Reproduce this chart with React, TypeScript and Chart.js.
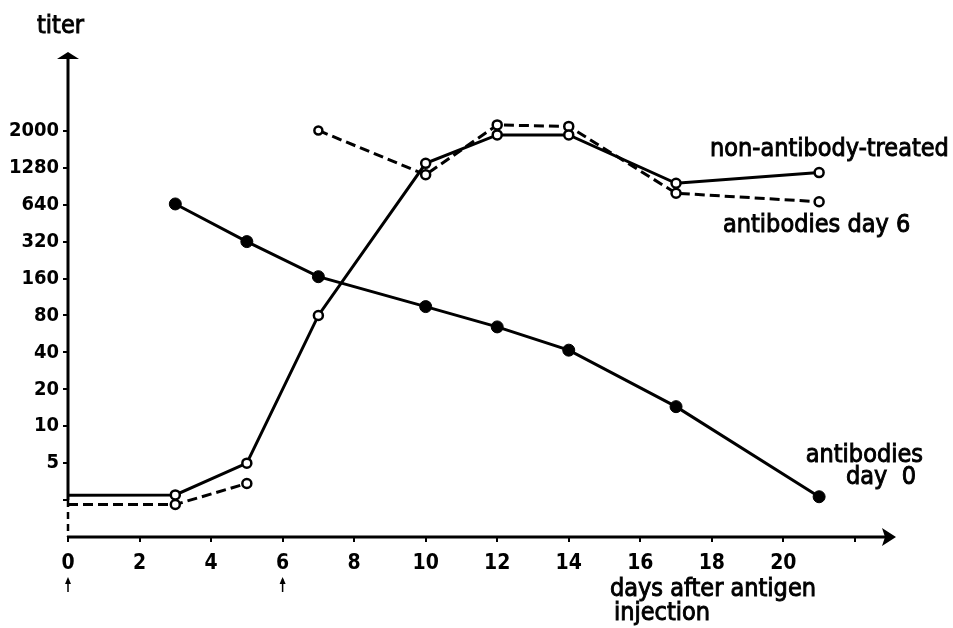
import React, { useEffect, useRef } from "react";
import { Chart, registerables } from "chart.js";

Chart.register(...registerables);

// Titer levels: each step on the y axis is one doubling (ordinal titer scale)
const titerLabels = ["5", "10", "20", "40", "80", "160", "320", "640", "1280", "2000"];
const yTickLevels = [-1, 0, 1, 2, 3, 4, 5, 6, 7, 8, 9];
const xTickValues = [0, 2, 4, 6, 8, 10, 12, 14, 16, 18, 20, 22];
const xTickLabels = ["0", "2", "4", "6", "8", "10", "12", "14", "16", "18", "20", ""];
const injectionDays = [0, 6];

// antibodies day 0 (filled circles, solid)
const day0Days = [3, 5, 7, 10, 12, 14, 17, 21];
const day0Levels = [7.02, 6.0, 5.05, 4.24, 3.69, 3.06, 1.53, -0.91];

// non-antibody-treated (open circles, solid)
const nonTreatedDays = [0, 3, 5, 7, 10, 12, 14, 17, 21];
const nonTreatedLevels = [-0.87, -0.86, 0, 4, 8.12, 8.89, 8.89, 7.58, 7.87];

// antibodies day 6 (open circles, dashed); gap at day 6
const day6Days = [0, 3, 5, 6, 7, 10, 12, 14, 17, 21];
const day6Levels: (number | null)[] = [-1.12, -1.12, -0.55, null, 9.01, 7.81, 9.16, 9.12, 7.31, 7.08];

const FONT = '"DejaVu Sans Condensed", "DejaVu Sans", sans-serif';

const decorPlugin = {
  id: "decor",
  beforeDatasetsDraw(chart: any) {
    const { ctx, chartArea, scales } = chart;
    const x = scales.x;
    const y = scales.y;
    const left = chartArea.left;
    const top = chartArea.top;
    const bottom = chartArea.bottom;
    const right = chartArea.right;
    ctx.save();
    ctx.strokeStyle = "#000";
    ctx.fillStyle = "#000";
    ctx.lineWidth = 3;
    // y axis: solid down to level -1, dashed below
    const yBreak = y.getPixelForValue(-1);
    ctx.beginPath();
    ctx.moveTo(left, top - 2);
    ctx.lineTo(left, yBreak);
    ctx.stroke();
    ctx.setLineDash([7, 5]);
    ctx.lineWidth = 2.5;
    ctx.beginPath();
    ctx.moveTo(left, yBreak);
    ctx.lineTo(left, bottom);
    ctx.stroke();
    ctx.setLineDash([]);
    // y arrowhead
    ctx.beginPath();
    ctx.moveTo(left, top - 5);
    ctx.lineTo(left + 11, top + 2);
    ctx.lineTo(left - 11, top + 2);
    ctx.closePath();
    ctx.fill();
    // x axis
    ctx.lineWidth = 3;
    ctx.beginPath();
    ctx.moveTo(left - 1, bottom);
    ctx.lineTo(right + 2, bottom);
    ctx.stroke();
    ctx.beginPath();
    ctx.moveTo(right + 10, bottom);
    ctx.lineTo(right - 4, bottom - 9);
    ctx.lineTo(right - 1, bottom);
    ctx.lineTo(right - 4, bottom + 9);
    ctx.closePath();
    ctx.fill();
    // injection arrows
    ctx.lineWidth = 1.5;
    for (const d of injectionDays) {
      const px = x.getPixelForValue(d);
      ctx.beginPath();
      ctx.moveTo(px, bottom + 55);
      ctx.lineTo(px, bottom + 42);
      ctx.stroke();
      ctx.beginPath();
      ctx.moveTo(px, bottom + 40);
      ctx.lineTo(px - 3, bottom + 47);
      ctx.lineTo(px + 3, bottom + 47);
      ctx.closePath();
      ctx.fill();
    }
    // texts (regular weight, lightly emboldened with a thin stroke)
    ctx.textBaseline = "alphabetic";
    ctx.font = `25px ${FONT}`;
    ctx.lineWidth = 0.9;
    const put = (t: string, tx: number, ty: number, align: CanvasTextAlign) => {
      ctx.textAlign = align;
      ctx.fillText(t, tx, ty);
      ctx.strokeText(t, tx, ty);
    };
    put("titer", 37, 33, "left");
    put("non-antibody-treated", 710, 156, "left");
    put("antibodies day 6", 723, 232, "left");
    put("antibodies", 923, 462, "right");
    put("day  0", 916, 484, "right");
    put("days after antigen", 610, 596, "left");
    put("injection", 614, 620, "left");
    ctx.restore();
  },
};

export default function App() {
  const ref = useRef<HTMLCanvasElement | null>(null);
  useEffect(() => {
    if (!ref.current) return;
    const toPts = (days: number[], lv: (number | null)[]) => days.map((d, i) => ({ x: d, y: lv[i] }));
    const chart = new Chart(ref.current, {
      type: "line",
      data: {
        datasets: [
          {
            label: "non-antibody-treated",
            data: toPts(nonTreatedDays, nonTreatedLevels) as any,
            borderColor: "#000",
            borderWidth: 3,
            pointBackgroundColor: "#fff",
            pointBorderColor: "#000",
            pointBorderWidth: 2.5,
            pointRadius: nonTreatedDays.map((d) => (d === 0 ? 0 : 4.5)),
            tension: 0,
          },
          {
            label: "antibodies day 6",
            data: toPts(day6Days, day6Levels) as any,
            borderColor: "#000",
            borderWidth: 3,
            borderDash: [10, 5],
            spanGaps: false,
            pointBackgroundColor: "#fff",
            pointBorderColor: "#000",
            pointBorderWidth: 2.5,
            pointRadius: day6Days.map((d) => (d === 0 ? 0 : d === 7 ? 4 : 4.5)),
            tension: 0,
          },
          {
            label: "antibodies day 0",
            data: toPts(day0Days, day0Levels) as any,
            borderColor: "#000",
            borderWidth: 3,
            pointBackgroundColor: "#000",
            pointBorderColor: "#000",
            pointBorderWidth: 1,
            pointRadius: 6,
            tension: 0,
          },
        ],
      },
      options: {
        animation: false,
        responsive: true,
        maintainAspectRatio: false,
        layout: { padding: { left: 8, right: 67, top: 57, bottom: 0 } },
        plugins: { legend: { display: false }, tooltip: { enabled: false } },
        scales: {
          x: {
            type: "linear",
            min: 0,
            max: 22.87,
            afterFit: (s: any) => {
              s.height = 91;
            },
            afterBuildTicks: (s: any) => {
              s.ticks = xTickValues.map((v) => ({ value: v }));
            },
            border: { display: false },
            grid: { drawOnChartArea: false, drawTicks: true, tickLength: 5, lineWidth: 2, color: "#000" },
            ticks: {
              color: "#000",
              font: { family: FONT, size: 21, weight: "bold" },
              padding: 9,
              maxRotation: 0,
              autoSkip: false,
              callback: (v: any) => {
                const i = xTickValues.indexOf(Number(v));
                return i >= 0 ? xTickLabels[i] : "";
              },
            },
          },
          y: {
            type: "linear",
            min: -2,
            max: 11,
            afterFit: (s: any) => {
              s.width = 60;
            },
            afterBuildTicks: (s: any) => {
              s.ticks = yTickLevels.map((v) => ({ value: v }));
            },
            border: { display: false },
            grid: { drawOnChartArea: false, drawTicks: true, tickLength: 5, lineWidth: 2, color: "#000" },
            ticks: {
              color: "#000",
              font: { family: FONT, size: 20, weight: "bold" },
              padding: 4,
              autoSkip: false,
              callback: (v: any) => {
                const n = Number(v);
                return n >= 0 && n < titerLabels.length ? titerLabels[n] : "";
              },
            },
          },
        },
      },
      plugins: [decorPlugin],
    });
    return () => chart.destroy();
  }, []);
  return (
    <div style={{ position: "fixed", left: 0, top: 0, width: 953, height: 628, background: "#fff" }}>
      <canvas ref={ref} />
    </div>
  );
}
